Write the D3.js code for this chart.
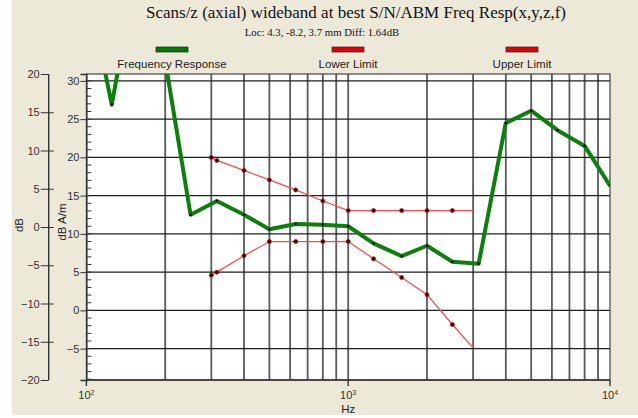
<!DOCTYPE html>
<html>
<head>
<meta charset="utf-8">
<script src="https://cdn.jsdelivr.net/npm/d3@7"></script>
<style>
  html, body { margin: 0; padding: 0; background: #fff; }
  svg { display: block; }
  .tick text { font-family: "Liberation Sans", Arial, sans-serif; font-size: 11px; fill: #333; }
</style>
</head>
<body>
<div class="chart"></div>
<script>
// 1/3 octave bands for the measured response
var freqs = [100, 125, 160, 200, 250, 315, 400, 500, 630, 800, 1000,
             1250, 1600, 2000, 2500, 3150, 4000, 5000, 6300, 8000, 10000];
var response = [43, 26.9, 47, 32.6, 12.5, 14.3, 12.5, 10.6, 11.3, 11.2, 11.0,
                8.75, 7.1, 8.45, 6.35, 6.1, 24.5, 26.1, 23.55, 21.5, 16.3];

// limit curves
var limitFreqs = [300, 315, 400, 500, 630, 800, 1000, 1250, 1600, 2000, 2500, 3000];
var lowerLimit = [4.6, 5.0, 7.15, 9.0, 9.0, 9.0, 9.0, 6.75, 4.3, 2.05, -1.85, -4.9];
var upperLimit = [20.0, 19.6, 18.3, 17.05, 15.75, 14.3, 13.05, 13.05, 13.05, 13.05, 13.05, 13.05];

// axis ticks
var leftTicks = [20, 15, 10, 5, 0, -5, -10, -15, -20];
var rightTicks = [30, 25, 20, 15, 10, 5, 0, -5];
var xMajor = [100, 1000, 10000];
var xGrid = [200, 300, 400, 500, 600, 700, 800, 900, 1000,
             2000, 3000, 4000, 5000, 6000, 7000, 8000, 9000];

var legendItems = ["Frequency Response", "Lower Limit", "Upper Limit"];
var legendColors = ["#007a00", "#e00000", "#e00000"];

var svgWidth = 638, svgHeight = 418;
var margin = {top: 74, right: 28, bottom: 38, left: 86.4};
var width = svgWidth - margin.left - margin.right,
    height = svgHeight - margin.top - margin.bottom;

var svg = d3.select(".chart").append("svg")
    .attr("width", svgWidth)
    .attr("height", svgHeight);

// beige panel
svg.append("rect")
    .attr("x", 12).attr("y", 0)
    .attr("width", svgWidth - 12).attr("height", 415)
    .attr("fill", "#ece9d8");

var x = d3.scaleLog().domain([100, 10000]).range([0, width]);
var y = d3.scaleLinear().domain([-9.1, 30.9]).range([height, 0]);   // dB A/m
var yLeft = d3.scaleLinear().domain([-20, 20]).range([height, 0]);  // dB

var chart = svg.append("g")
    .attr("transform", "translate(" + margin.left + "," + margin.top + ")");

chart.append("rect")
    .attr("width", width).attr("height", height)
    .attr("fill", "#fff");

svg.append("defs").append("clipPath")
    .attr("id", "clip")
  .append("rect")
    .attr("width", width)
    .attr("height", height);

// grid
chart.append("g").selectAll("line")
    .data(xGrid)
    .enter().append("line")
    .attr("x1", function(d) { return x(d); })
    .attr("x2", function(d) { return x(d); })
    .attr("y1", 0).attr("y2", height)
    .attr("stroke", "#5a5a5a")
    .attr("stroke-width", 1.8);

chart.append("g").selectAll("line")
    .data(rightTicks)
    .enter().append("line")
    .attr("x1", 0).attr("x2", width)
    .attr("y1", function(d) { return y(d); })
    .attr("y2", function(d) { return y(d); })
    .attr("stroke", "#1e1e1e")
    .attr("stroke-width", 1.4);

// minor ticks inside on the left edge
chart.append("g").selectAll("line")
    .data(d3.range(-9, 31))
    .enter().append("line")
    .attr("x1", 0).attr("x2", 5)
    .attr("y1", function(d) { return y(d); })
    .attr("y2", function(d) { return y(d); })
    .attr("stroke", "#333")
    .attr("stroke-width", 1);

chart.append("rect")
    .attr("width", width).attr("height", height)
    .attr("fill", "none")
    .attr("stroke", "#444")
    .attr("stroke-width", 1.2);

// right (dB A/m) axis on plot edge
var yAxis = d3.axisLeft(y).tickValues(rightTicks).tickSize(6).tickPadding(1);
var gy = chart.append("g").call(yAxis);
gy.select(".domain").attr("stroke", "#333").attr("stroke-width", 1.4);
gy.selectAll(".tick line").attr("stroke", "#333");

// left (dB) axis
var yAxisLeft = d3.axisLeft(yLeft).tickValues(leftTicks).tickSize(0).tickPadding(9);
var gl = svg.append("g")
    .attr("transform", "translate(48.7," + margin.top + ")")
    .call(yAxisLeft);
gl.select(".domain").remove();
gl.append("line")
    .attr("y1", 0).attr("y2", height)
    .attr("stroke", "#333").attr("stroke-width", 1.4);
gl.selectAll(".tick").append("line")
    .attr("x1", -8)
    .attr("x2", function(d) { return (d === 20 || d === -20) ? 0 : 5; })
    .attr("stroke", "#333");

// x axis
var gx = chart.append("g")
    .attr("transform", "translate(0," + height + ")");
gx.append("line")
    .attr("x1", 0).attr("x2", width)
    .attr("stroke", "#333").attr("stroke-width", 1.4);
var xt = gx.selectAll(".xt")
    .data(xMajor)
    .enter().append("g")
    .attr("transform", function(d) { return "translate(" + x(d) + ",0)"; });
xt.append("line").attr("y1", 0).attr("y2", 6).attr("stroke", "#333").attr("stroke-width", 1.4);
var xl = xt.append("text")
    .attr("y", 19)
    .attr("text-anchor", "middle")
    .style("font-family", "Liberation Sans, Arial, sans-serif")
    .style("font-size", "11px")
    .attr("fill", "#333");
xl.append("tspan").text("10");
xl.append("tspan")
    .attr("dy", -4)
    .style("font-size", "7px")
    .text(function(d) { return Math.round(Math.log10(d)); });

// axis titles
svg.append("text")
    .attr("x", margin.left + x(1000)).attr("y", 413)
    .attr("text-anchor", "middle")
    .style("font-family", "Liberation Sans, Arial, sans-serif")
    .style("font-size", "11.5px")
    .attr("fill", "#222")
    .text("Hz");

svg.append("text")
    .attr("transform", "translate(23,225) rotate(-90)")
    .attr("text-anchor", "middle")
    .style("font-family", "Liberation Sans, Arial, sans-serif")
    .style("font-size", "11.5px")
    .attr("fill", "#222")
    .text("dB");

svg.append("text")
    .attr("transform", "translate(66,222) rotate(-90)")
    .attr("text-anchor", "middle")
    .style("font-family", "Liberation Sans, Arial, sans-serif")
    .style("font-size", "11.5px")
    .attr("fill", "#222")
    .text("dB A/m");

// lines
var line = d3.line()
    .x(function(d) { return x(d[0]); })
    .y(function(d) { return y(d[1]); });

var plot = chart.append("g").attr("clip-path", "url(#clip)");

function drawLimit(vals) {
    var pts = limitFreqs.map(function(f, i) { return [f, vals[i]]; });
    plot.append("path")
        .datum(pts)
        .attr("d", line)
        .attr("fill", "none")
        .attr("stroke", "#ff4a4a")
        .attr("stroke-width", 1.3);
    plot.selectAll(null)
        .data(pts.slice(0, -1))
        .enter().append("circle")
        .attr("cx", function(d) { return x(d[0]); })
        .attr("cy", function(d) { return y(d[1]); })
        .attr("r", 2)
        .attr("fill", "#111")
        .attr("stroke", "#e00000")
        .attr("stroke-width", 0.8);
}
drawLimit(upperLimit);
drawLimit(lowerLimit);

var respPts = freqs.map(function(f, i) { return [f, response[i]]; });
plot.append("path")
    .datum(respPts)
    .attr("d", line)
    .attr("fill", "none")
    .attr("stroke", "#0b800b")
    .attr("stroke-width", 4)
    .attr("stroke-linejoin", "round");
plot.selectAll(null)
    .data(respPts)
    .enter().append("circle")
    .attr("cx", function(d) { return x(d[0]); })
    .attr("cy", function(d) { return y(d[1]); })
    .attr("r", 1.3)
    .attr("fill", "#000");

// titles
svg.append("text")
    .attr("x", 356).attr("y", 18)
    .attr("text-anchor", "middle")
    .style("font-family", "Liberation Serif, Times New Roman, serif")
    .style("font-size", "17px")
    .attr("fill", "#111")
    .text("Scans/z (axial) wideband at best S/N/ABM Freq Resp(x,y,z,f)");

svg.append("text")
    .attr("x", 322).attr("y", 36)
    .attr("text-anchor", "middle")
    .style("font-family", "Liberation Serif, Times New Roman, serif")
    .style("font-size", "10.8px")
    .attr("fill", "#111")
    .text("Loc: 4.3, -8.2, 3.7 mm Diff: 1.64dB");

// legend
var legendX = [172, 348, 522];
var lg = svg.selectAll(".lg")
    .data(legendItems)
    .enter().append("g")
    .attr("transform", function(d, i) { return "translate(" + legendX[i] + ",0)"; });
lg.append("rect")
    .attr("x", -16).attr("y", 47)
    .attr("width", 32).attr("height", 5)
    .attr("fill", function(d, i) { return legendColors[i]; })
    .attr("stroke", "#333")
    .attr("stroke-width", 0.8);
lg.append("text")
    .attr("y", 68)
    .attr("text-anchor", "middle")
    .style("font-family", "Liberation Sans, Arial, sans-serif")
    .style("font-size", "11.5px")
    .attr("fill", "#222")
    .text(function(d) { return d; });
</script>
</body>
</html>
